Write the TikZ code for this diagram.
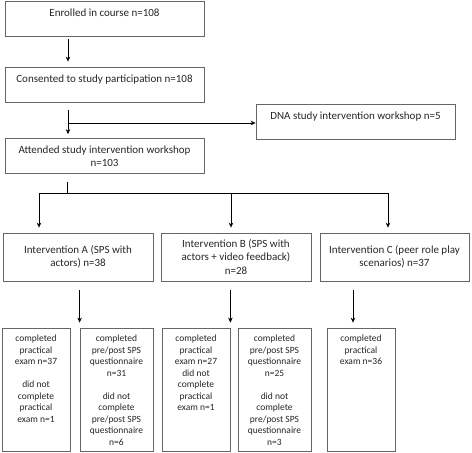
\documentclass[tikz,border=0pt]{standalone}
\usepackage{fontspec}
\setmainfont{Carlito}
\usetikzlibrary{arrows.meta}
% testo in colonna, allineato alla prima riga
\newcommand{\pila}[1]{\begin{tabular}[t]{@{}c@{}}#1\end{tabular}}
\begin{document}
\begin{tikzpicture}[x=1pt, y=-1pt,
	box/.style={draw=black!60, line width=0.8pt, inner sep=0pt, align=center, text=black!85, font=\fontsize{11}{13.4}\selectfont},
	onebox/.style={box, text height=8pt, text depth=11.4pt},
	resbox/.style={draw=black!60, line width=0.8pt, inner sep=0pt, minimum height=123pt},
	restext/.style={anchor=north, inner sep=0pt, yshift=-6pt, text=black!85, font=\fontsize{9.5}{11.5}\selectfont},
	arr/.style={black, line width=0.6pt, -{Stealth[length=5pt,width=4.5pt]}}]
	\useasboundingbox (0,0) rectangle (472,453);

	% caselle in alto
	\node[onebox, minimum width=199pt, minimum height=35pt] (enrol) at (104.5,18.5) {Enrolled in course n=108};
	\node[onebox, minimum width=199pt, minimum height=35pt] (consent) at (104.5,84.5) {Consented to study participation n=108};
	\node[onebox, minimum width=199pt, minimum height=35pt] (dna) at (355.5,121.5) {DNA study intervention workshop n=5};
	\node[box, minimum width=199pt, minimum height=35pt] (attend) at (104.5,156) {Attended study intervention workshop\\n=103};

	% interventi
	\node[box, minimum width=150pt, minimum height=48pt] (intA) at (78,257) {Intervention A (SPS with\\actors) n=38};
	\node[box, minimum width=150pt, minimum height=48pt] (intB) at (236,257) {Intervention B (SPS with\\actors + video feedback)\\n=28};
	\node[box, minimum width=149pt, minimum height=48pt] (intC) at (394.5,257) {Intervention C (peer role play\\scenarios) n=37};

	% risultati
	\node[resbox, minimum width=68pt] (resA1) at (36,389.5) {};
	\node[resbox, minimum width=73pt] (resA2) at (116.5,389.5) {};
	\node[resbox, minimum width=68pt] (resB1) at (196,389.5) {};
	\node[resbox, minimum width=73pt] (resB2) at (274.5,389.5) {};
	\node[resbox, minimum width=68pt] (resC1) at (361,389.5) {};
	\node[restext] (tA1) at (resA1.north) {\pila{completed\\practical\\exam n=37\\[11.5pt]did not\\complete\\practical\\exam n=1}};
	\node[restext] (tA2) at (resA2.north) {\pila{completed\\pre/post SPS\\questionnaire\\n=31\\[11.5pt]did not\\complete\\pre/post SPS\\questionnaire\\n=6}};
	\node[restext] (tB1) at (resB1.north) {\pila{completed\\practical\\exam n=27\\did not\\complete\\practical\\exam n=1}};
	\node[restext] (tB2) at (resB2.north) {\pila{completed\\pre/post SPS\\questionnaire\\n=25\\[11.5pt]did not\\complete\\pre/post SPS\\questionnaire\\n=3}};
	\node[restext] (tC1) at (resC1.north) {\pila{completed\\practical\\exam n=36}};

	% frecce
	\draw[arr, shorten <=3pt, shorten >=5pt] ([xshift=-36.5pt]enrol.south) -- ([xshift=-36.5pt]consent.north);
	\draw[arr, shorten <=8pt, shorten >=4pt] ([xshift=-36.5pt]consent.south) -- ([xshift=-36.5pt]attend.north);
	\coordinate (split) at (68,123);
	\draw[arr] (split) -- (split -| dna.west);

	\coordinate (bus) at (67,193);
	\coordinate (busA) at (39,193);
	\coordinate (busB) at (231,193);
	\coordinate (busC) at (388,193);
	\draw[black, line width=0.6pt] ([xshift=-37.5pt, yshift=-8.5pt]attend.south) -- (bus);
	\draw[black, line width=0.6pt] (busA) -- (busC);
	\draw[arr, shorten >=5pt] (busA) -- (busA |- intA.north);
	\draw[arr, shorten >=5pt] (busB) -- (busB |- intB.north);
	\draw[arr, shorten >=5pt] (busC) -- (busC |- intC.north);

	\coordinate (tipC) at ([xshift=-8pt]resC1.north);
	\draw[arr, shorten <=9pt, shorten >=5pt] (intA.south -| resA2.north west) -- (resA2.north west);
	\draw[arr, shorten <=9pt, shorten >=5pt] (intB.south -| resB1.north east) -- (resB1.north east);
	\draw[arr, shorten <=9pt, shorten >=5pt] (intC.south -| tipC) -- (tipC);
\end{tikzpicture}
\end{document}
